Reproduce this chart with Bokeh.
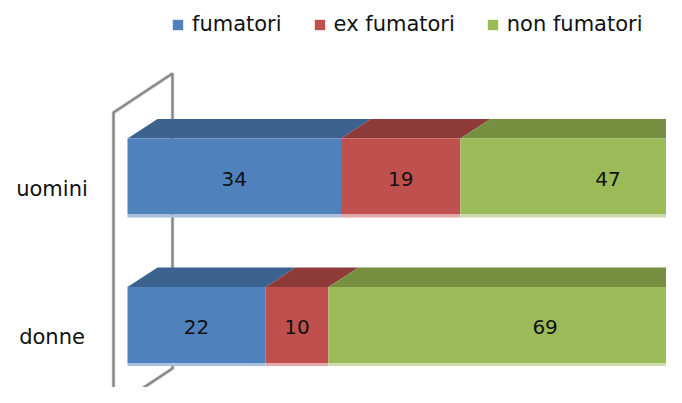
from bokeh.plotting import figure
from bokeh.models import Range1d, Legend, LegendItem, ColumnDataSource
from bokeh.embed import file_html
from bokeh.resources import INLINE
from bokeh.core.properties import value

# ---- data ----
categories = ["donne", "uomini"]          # bottom row first
series = ["fumatori", "ex fumatori", "non fumatori"]
fumatori = [22, 34]
ex_fumatori = [10, 19]
non_fumatori = [69, 47]

front_colors = ["#4f81bd", "#c0504d", "#9bbb59"]
top_colors = ["#3c628f", "#8e3a38", "#778f40"]
strip_colors = ["#a9c0de", "#e0aaa8", "#cddcae"]

# ---- geometry (pixels) ----
W, H = 666, 387
PX_PER_UNIT = 6.28
ROW_PX = 148.5
ZERO_X = 127.0     # canvas px of value 0 at bar front
ROW0_Y = 324.5     # canvas px (from top) of the bottom row centre
FONT = value("DejaVu Sans")

x_start = -ZERO_X / PX_PER_UNIT
x_end = x_start + W / PX_PER_UNIT
y_top = ROW0_Y / ROW_PX
y_bottom = y_top - H / ROW_PX

def ux(px):
    return px / PX_PER_UNIT

def uy(px):
    return px / ROW_PX

half = uy(38)
depth_dx, depth_dy = ux(30), uy(19.5)
strip = uy(3)

p = figure(width=W, height=H, x_range=Range1d(x_start, x_end),
           y_range=Range1d(y_bottom, y_top), output_backend="svg",
           toolbar_location=None, min_border=0,
           x_axis_location=None, y_axis_location=None)
p.grid.visible = False
p.outline_line_color = None
p.background_fill_color = "white"
p.border_fill_color = "white"

rows = list(range(len(categories)))

# ---- wall ----
wx_f = ux(-14)
wx_b = wx_f + ux(59)
wdy = uy(39)
wy_t = max(rows) + uy(64)
wy_b = min(rows) - uy(82.5)
wall_x = [wx_f, wx_f, wx_b, wx_b, wx_f]
wall_y = [wy_b, wy_t, wy_t + wdy, wy_b + wdy, wy_b]
p.line(wall_x, wall_y, line_color="#c4c4c4", line_width=3.5)
p.line(wall_x, wall_y, line_color="#858585", line_width=2)

# ---- stacked 3D bars ----
values = [fumatori, ex_fumatori, non_fumatori]
cum = [0] * len(categories)
legend_items = []
for name, vals, fc, tc, sc in zip(series, values, front_colors, top_colors, strip_colors):
    left = cum[:]
    right = [c + v for c, v in zip(cum, vals)]
    cum = right
    xs, ys = [], []
    for l, r, row in zip(left, right, rows):
        t = row + half
        xs.append([l, r, r + depth_dx, l + depth_dx])
        ys.append([t, t, t + depth_dy, t + depth_dy])
    p.patches(xs, ys, fill_color=tc, line_color=None)
    src = ColumnDataSource(dict(left=left, right=right, row=rows,
                                top=[r + half for r in rows],
                                bottom=[r - half for r in rows],
                                sb=[r - half - strip for r in rows],
                                mid=[(l + r) / 2 for l, r in zip(left, right)],
                                lab=[str(v) for v in vals],
                                ty=[r - uy(2) for r in rows]))
    rr = p.quad(left="left", right="right", top="top", bottom="bottom", source=src,
                fill_color=fc, line_color=None)
    p.quad(left="left", right="right", top="bottom", bottom="sb", source=src,
           fill_color=sc, line_color=None)
    p.text(x="mid", y="ty", text="lab", source=src, text_align="center",
           text_baseline="middle", text_font=FONT, text_font_size="20px",
           text_color="#111111")
    legend_items.append(LegendItem(label=name, renderers=[rr]))

# ---- category labels ----
p.text(x=[ux(-75.5)] * len(rows), y=[r - uy(12) for r in rows], text=categories,
       text_align="center", text_baseline="middle", text_font=FONT,
       text_font_size="21px", text_color="#111111")

legend = Legend(items=legend_items, location=(171, 351), orientation="horizontal",
                glyph_width=13, glyph_height=13, label_standoff=8, spacing=31,
                padding=0, margin=0, border_line_color=None,
                background_fill_alpha=0, label_text_font="DejaVu Sans",
                label_text_font_size="21px", label_text_color="#111111")
p.add_layout(legend)

open("out.html", "w").write(file_html(p, INLINE))
